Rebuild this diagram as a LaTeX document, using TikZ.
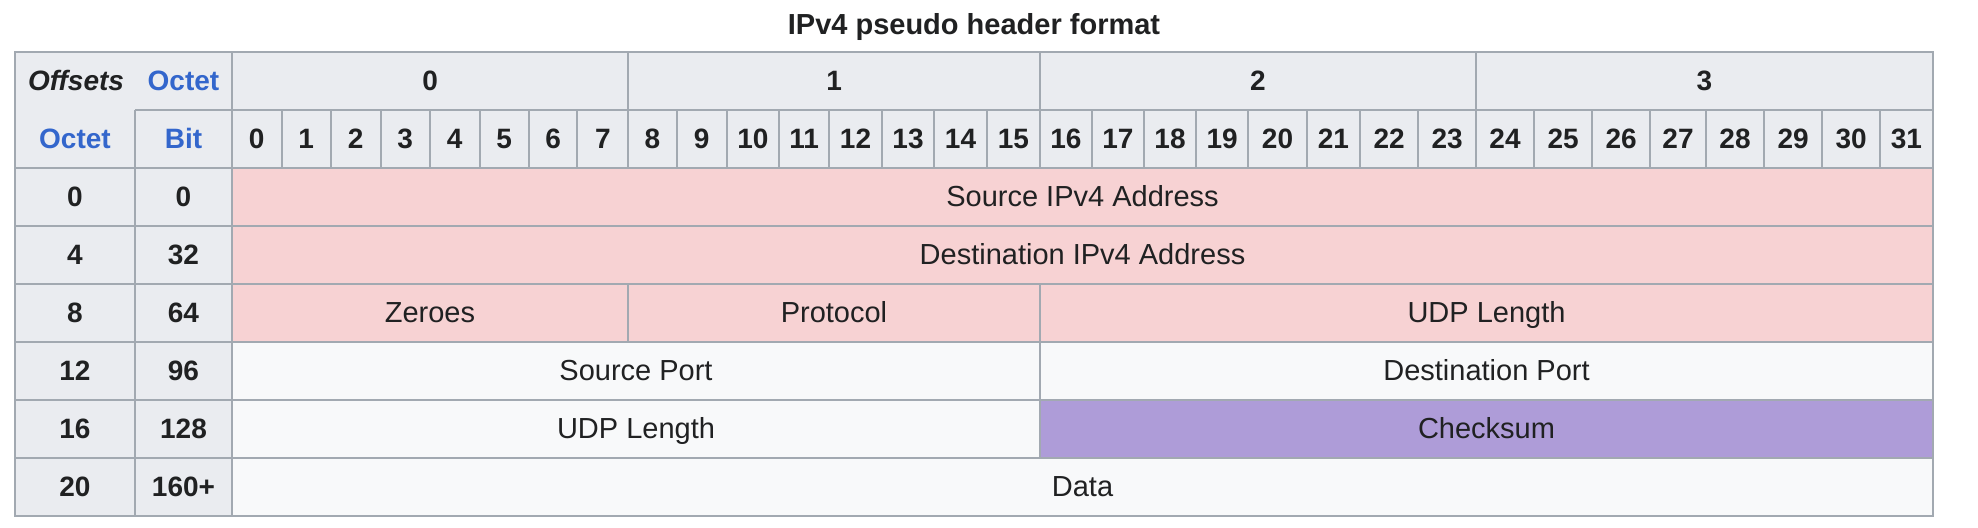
\documentclass[tikz,border=0pt]{standalone}
\usepackage{fontspec}
\setmainfont{Liberation Sans}
\usetikzlibrary{calc}
\definecolor{hdrbg}{HTML}{EAECF0}
\definecolor{gridc}{HTML}{A2A9B1}
\definecolor{pinkbg}{HTML}{F7D2D3}
\definecolor{whitebg}{HTML}{F8F9FA}
\definecolor{purplebg}{HTML}{AE9CD8}
\definecolor{linkblue}{HTML}{3366CC}
\definecolor{txt}{HTML}{202122}
\begin{document}
\begin{tikzpicture}[x=0.5pt,y=-0.5pt,
  every node/.style={inner sep=0pt,outer sep=0pt,anchor=base,text=txt,font=\fontsize{14.5pt}{17pt}\selectfont},
  hd/.style={font=\fontsize{14pt}{16pt}\selectfont\bfseries},
  hdblue/.style={font=\fontsize{14pt}{16pt}\selectfont\bfseries,text=linkblue},
  cell/.style={},
  gridline/.style={draw=gridc,line width=1pt}]
\useasboundingbox (0,0) rectangle (1978,528);
% bit column boundaries
\def\bx{232,281.5,331,380.5,430,479.5,529,577.3,628.3,676.7,726.7,779,829.3,881.7,934.3,986.7,1040,1091.7,1144,1196,1248.3,1306.7,1360,1418.3,1476,1534,1592.3,1650,1706,1764,1822.3,1880,1932.7}
\foreach \xx [count=\i from 0] in \bx { \coordinate (X\i) at (\xx,0); }
% backgrounds
\fill[hdrbg] (15,52) rectangle (1933,168);
\fill[hdrbg] (15,168) rectangle (232,516);
\fill[pinkbg] (232,168) rectangle (1933,342);
\fill[whitebg] (232,342) rectangle (1933,400);
\fill[whitebg] (232,400) rectangle (1040,458);
\fill[purplebg] (1040,400) rectangle (1933,458);
\fill[whitebg] (232,458) rectangle (1933,516);
% grid lines
\draw[gridline] (135,110) -- (1933,110);
\foreach \yy in {168,226,284,342,400,458} { \draw[gridline] (15,\yy) -- (1933,\yy); }
\draw[gridline] (135,110) -- (135,516);
\draw[gridline] (232,52) -- (232,516);
\foreach \i in {1,...,31} { \draw[gridline] (X\i |- 0,110) -- (X\i |- 0,168); }
\foreach \i in {8,16,24} { \draw[gridline] (X\i |- 0,52) -- (X\i |- 0,110); }
\draw[gridline] (X8 |- 0,284) -- (X8 |- 0,342);
\draw[gridline] (X16 |- 0,284) -- (X16 |- 0,458);
\draw[gridline] (15,52) rectangle (1933,516);
% title
\node[font=\fontsize{14.5pt}{17pt}\selectfont\bfseries] (title) at (974,35) {IPv4 pseudo header format};
% header texts
\node[font=\fontsize{14pt}{16pt}\selectfont\bfseries\itshape] (offsets) at (76,91) {Offsets};
\node[hdblue] (octethd) at (183.5,91) {Octet};
\node[hdblue] (octetcol) at (75,149) {Octet};
\node[hdblue] (bitcol) at (183.5,149) {Bit};
\foreach \o [evaluate=\o as \a using int(8*\o), evaluate=\o as \b using int(8*\o+8)] in {0,1,2,3} {
  \node[hd] (oct\o) at ($(X\a)!.5!(X\b)+(0,91)$) {\o};
}
\foreach \i [evaluate=\i as \j using int(\i+1)] in {0,...,31} {
  \node[hd] (bit\i) at ($(X\i)!.5!(X\j)+(0,149)$) {\i};
}
% row labels
\foreach \oc/\bt [count=\r from 0] in {0/0,4/32,8/64,12/96,16/128,20/160+} {
  \node[hd] (ro\r) at (75,{207+58*\r}) {\oc};
  \node[hd] (rb\r) at (183.5,{207+58*\r}) {\bt};
}
% fields
\node[cell] (src) at (1082.5,207) {Source IPv4 Address};
\node[cell] (dst) at (1082.5,265) {Destination IPv4 Address};
\node[cell] (zero) at (430,323) {Zeroes};
\node[cell] (proto) at (834,323) {Protocol};
\node[cell] (udplen1) at (1486.5,323) {UDP Length};
\node[cell] (sport) at (636,381) {Source Port};
\node[cell] (dport) at (1486.5,381) {Destination Port};
\node[cell] (udplen2) at (636,439) {UDP Length};
\node[cell] (csum) at (1486.5,439) {Checksum};
\node[cell] (data) at (1082.5,497) {Data};
\end{tikzpicture}
\end{document}
